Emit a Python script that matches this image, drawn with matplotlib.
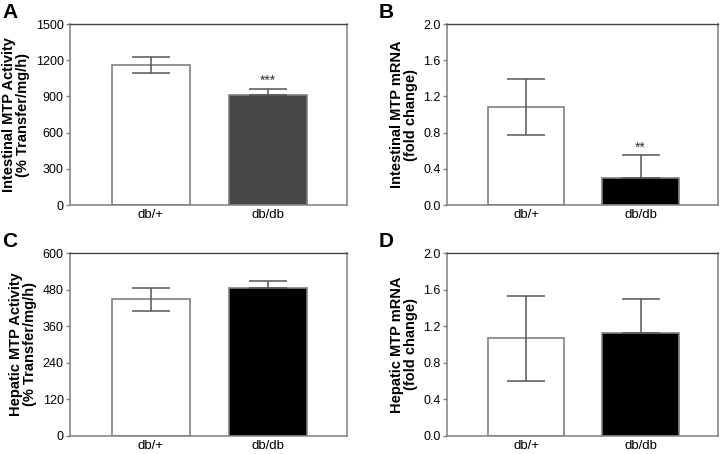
import matplotlib
matplotlib.use('Agg')
import matplotlib.pyplot as plt

plt.rcParams['font.family'] = ['Liberation Sans', 'DejaVu Sans']

groups = ['db/+', 'db/db']

int_act = [1160, 910]
int_act_err = [70, 55]
int_mrna = [1.08, 0.30]
int_mrna_err = [0.31, 0.25]
hep_act = [448, 484]
hep_act_err = [38, 24]
hep_mrna = [1.07, 1.13]
hep_mrna_err = [0.465, 0.37]

panels = [
    dict(letter='A', vals=int_act, errs=int_act_err, ylim=1500, ticks=[0, 300, 600, 900, 1200, 1500],
         fmt='{:.0f}', ylabel='Intestinal MTP Activity\n(% Transfer/mg/h)', c2='#474747', star='***',
         pos=[70, 24, 347, 205]),
    dict(letter='B', vals=int_mrna, errs=int_mrna_err, ylim=2.0, ticks=[0, 0.4, 0.8, 1.2, 1.6, 2.0],
         fmt='{:.1f}', ylabel='Intestinal MTP mRNA\n(fold change)', c2='black', star='**',
         pos=[447, 24, 718, 205]),
    dict(letter='C', vals=hep_act, errs=hep_act_err, ylim=600, ticks=[0, 120, 240, 360, 480, 600],
         fmt='{:.0f}', ylabel='Hepatic MTP Activity\n(% Transfer/mg/h)', c2='black', star=None,
         pos=[70, 253, 347, 436]),
    dict(letter='D', vals=hep_mrna, errs=hep_mrna_err, ylim=2.0, ticks=[0, 0.4, 0.8, 1.2, 1.6, 2.0],
         fmt='{:.1f}', ylabel='Hepatic MTP mRNA\n(fold change)', c2='black', star=None,
         pos=[447, 253, 718, 436]),
]

W, H = 722, 454
fig = plt.figure(figsize=(W / 100, H / 100), dpi=100)

for p in panels:
    x0, y0, x1, y1 = p['pos']
    ax = fig.add_axes([x0 / W, 1 - y1 / H, (x1 - x0) / W, (y1 - y0) / H])
    xs = [0, 1]
    colors = ['white', p['c2']]
    # error bars: white bar both ways, dark bar only upwards
    ax.errorbar(xs[0], p['vals'][0], yerr=p['errs'][0], fmt='none', ecolor='#555555',
                elinewidth=1.1, capsize=14, capthick=1.1, zorder=3)
    ax.errorbar(xs[1], p['vals'][1], yerr=[[0], [p['errs'][1]]], fmt='none', ecolor='#555555',
                elinewidth=1.1, capsize=14, capthick=1.1, zorder=3)
    ax.bar(xs, p['vals'], width=0.667, color=colors, edgecolor='#808080', linewidth=1.2, zorder=2)
    if p['star']:
        ax.text(xs[1], p['vals'][1] + p['errs'][1] + p['ylim'] * 0.003, p['star'],
                ha='center', va='bottom', fontsize=10, color='#333333')
    ax.set_xlim(-0.69, 1.675)
    ax.set_ylim(0, p['ylim'])
    ax.set_yticks(p['ticks'])
    ax.set_yticklabels([p['fmt'].format(t) for t in p['ticks']])
    ax.set_xticks(xs)
    ax.set_xticklabels(groups)
    ax.tick_params(axis='x', length=0, pad=3, labelsize=9.5)
    ax.tick_params(axis='y', length=3, width=1, color='#808080', labelsize=9, pad=1.5)
    for s in ['left', 'bottom', 'right']:
        ax.spines[s].set_color('#808080')
        ax.spines[s].set_linewidth(1.1)
    ax.spines['top'].set_color('#444444')
    ax.spines['top'].set_linewidth(1.0)
    ax.set_ylabel(p['ylabel'], fontsize=10.5, fontweight='bold', linespacing=1.0, labelpad=4)
    fig.text((x0 - 68) / W, 1 - (y0 - 21) / H, p['letter'], fontsize=15, fontweight='bold',
             ha='left', va='top')

fig.savefig('out.png', dpi=100)
